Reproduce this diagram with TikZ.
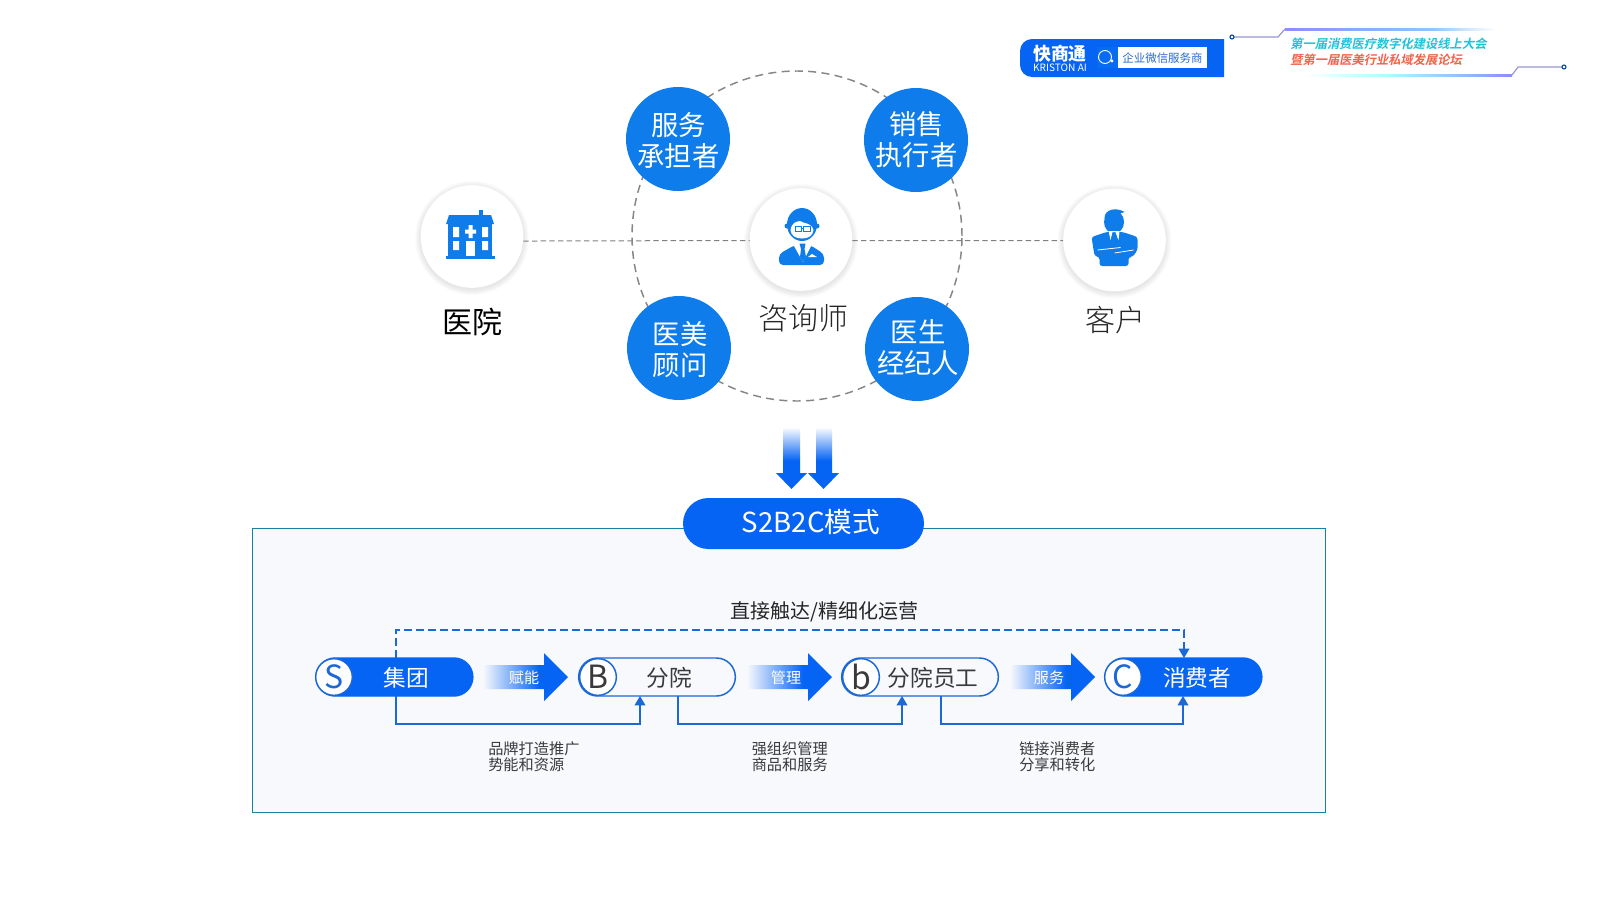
\documentclass[tikz,border=0pt]{standalone}
\usepackage{fontspec}
\usetikzlibrary{arrows.meta,shapes.misc}
\setmainfont{Noto Sans CJK SC}
\newfontfamily\slantcjk[FakeSlant=0.2]{Noto Sans CJK SC Bold}
\newfontfamily\lightcjk{Noto Sans CJK SC Light}
\newcommand{\fsz}[1]{\fontsize{#1}{#1}\selectfont}
\definecolor{circblue}{HTML}{0E7DEB}
\definecolor{pillblue}{HTML}{0564F4}
\definecolor{linkblue}{HTML}{1C68D6}
\definecolor{panelbg}{HTML}{F7F9FD}
\definecolor{panelline}{HTML}{187FA5}
\definecolor{darktxt}{HTML}{3A3A3A}
\definecolor{confcyan}{HTML}{1CC4DC}
\definecolor{confred}{HTML}{F0654A}
\pgfdeclarehorizontalshading{flowgrad}{100bp}{color(0bp)=(panelbg); color(25bp)=(panelbg); color(58bp)=(pillblue); color(100bp)=(pillblue)}
\pgfdeclareverticalshading{dropgrad}{100bp}{color(0bp)=(pillblue); color(48bp)=(pillblue); color(75bp)=(white); color(100bp)=(white)}
\pgfdeclarehorizontalshading{fadeline}{100bp}{color(0bp)=(blue!45!white); color(25bp)=(blue!45!white); color(60bp)=(cyan!50!blue!45!white); color(75bp)=(white); color(100bp)=(white)}
\pgfdeclarehorizontalshading{fadelineb}{100bp}{color(0bp)=(white); color(25bp)=(white); color(45bp)=(cyan!35!white); color(75bp)=(blue!45!white); color(100bp)=(blue!45!white)}
\tikzset{
  rolecirc/.style={circle,fill=circblue,minimum size=78pt,inner sep=0pt,outer sep=0pt},
  roletext/.style={inner sep=0pt,text=white,align=center,font=\fsz{20.5}},
  facecirc/.style={circle,fill=white,minimum size=77pt,inner sep=0pt,outer sep=0pt},
  ringline/.style={draw=gray!95,line width=1.1pt,dash pattern=on 6pt off 4pt},
  midline/.style={draw=gray,line width=.75pt,dash pattern=on 4pt off 2.5pt},
  caption/.style={inner sep=0pt,font=\lightcjk\fsz{22.5}},
  pillbase/.style={rounded rectangle,minimum width=117.5pt,minimum height=28.5pt,inner sep=0pt,outer sep=0pt,draw=linkblue,line width=1.1pt},
  pillsolid/.style={pillbase,fill=pillblue,draw=pillblue},
  pillopen/.style={pillbase,fill=panelbg},
  badge/.style={circle,minimum size=27.5pt,inner sep=0pt,outer sep=0pt,fill=white,draw=linkblue,line width=1.1pt,font=\fsz{24}},
  pilltext/.style={inner sep=0pt,font=\fsz{17}},
  flowarrow/.style={shading=flowgrad,shading angle=0},
  flowlabel/.style={inner sep=0pt,text=white,font=\fsz{11.3}},
  note/.style={inner sep=0pt,anchor=north west,align=left,text=darktxt,font=\fsz{11.4}},
  link/.style={draw=linkblue,line width=1pt,-{Triangle[width=8pt,length=7pt]}},
  dashlink/.style={link,dash pattern=on 6pt off 3pt},
}
\newcommand{\softshadow}[2]{\foreach \rr in {52,53,54,55,56,57}{\fill[black,opacity=.016] (#1,#2+1.5) circle[radius=\rr];}}
\begin{document}
\begin{tikzpicture}[x=.75pt,y=-.75pt]
\useasboundingbox (0,0) rectangle (1600,900);
\fill[white] (0,0) rectangle (1600,900);

% header logo
\fill[pillblue,rounded corners=9pt] (1224,39) -- (1020,39) -- (1020,77) -- (1224,77);
\fill[pillblue!70!circblue] (1097,47) rectangle (1118,68);
\fill[white] (1118,47) rectangle (1207,68);
\draw[white,line width=.7pt] (1105,57) circle[radius=6.5];
\fill[white] (1112,61) circle[radius=1.6];
\node[inner sep=0pt,text=white,font=\bfseries\fsz{13.4}] (logocn) at (1060,53.5) {快商通};
\node[inner sep=0pt,text=white,font=\fsz{7.6}] (logoen) at (1060,67.5) {KRISTON AI};
\node[inner sep=0pt,text=pillblue!70!gray,font=\fsz{8.6}] (logoslogan) at (1162.5,58) {企业微信服务商};

% conference title
\draw[blue!35!gray!60,line width=.9pt] (1234,37) -- (1278,37) -- (1285,29);
\draw[pillblue!70!black,line width=.8pt,fill=white] (1232,37) circle[radius=2];
\shade[shading=fadeline] (1285,28.5) rectangle (1495,30);
\node[inner sep=0pt,anchor=west,text=confcyan,font=\slantcjk\fsz{9.2}] (conf1) at (1290,44) {第一届消费医疗数字化建设线上大会};
\node[inner sep=0pt,anchor=west,text=confred,font=\slantcjk\fsz{9.2}] (conf2) at (1290,59.5) {暨第一届医美行业私域发展论坛};
\shade[shading=fadelineb] (1304,74.5) rectangle (1512,76);
\draw[blue!35!gray!60,line width=.9pt] (1512,75) -- (1518,67) -- (1562,67);
\draw[pillblue!70!black,line width=.8pt,fill=white] (1564,67) circle[radius=2];

% ring and roles
\node[circle,ringline,minimum size=247.5pt,inner sep=0pt] (ring) at (797,236) {};
\softshadow{472}{236.5}
\softshadow{801}{239.5}
\softshadow{1114.5}{240}
\node[facecirc] (hosp) at (472,236.5) {};
\node[facecirc] (doc) at (801,239.5) {};
\node[facecirc] (cust) at (1114.5,240) {};
\draw[midline] ([yshift=-3.4pt]hosp.east) -- ([yshift=-.75pt]doc.west);
\draw[midline] ([yshift=-.75pt]doc.east) -- ([yshift=-.4pt]cust.west);
\node[rolecirc] (r1) at (678,139) {};
\node[rolecirc] (r2) at (916,140) {};
\node[rolecirc] (r3) at (679,348) {};
\node[rolecirc] (r4) at (917,349) {};
\node[roletext] (rt1) at (678.5,140.5) {服务\\[3pt]承担者};
\node[roletext] (rt2) at (916.5,139.5) {销售\\[3pt]执行者};
\node[roletext] (rt3) at (680,349.5) {医美\\[3pt]顾问};
\node[roletext] (rt4) at (918,347.5) {医生\\[3pt]经纪人};
\node[caption,font=\fsz{22.5}] (c1) at (472,322) {医院};
\node[caption,text=black!85] (c2) at (803,318.5) {咨询师};
\node[caption,text=black!85] (c3) at (1115,320) {客户};

% hospital icon
\fill[circblue] (479,216) rectangle (483,210);
\fill[circblue] (449,215) -- (491,215) -- (494,224) -- (446,224) -- cycle;
\fill[circblue] (448,224) rectangle (492,256);
\fill[circblue] (446,256) rectangle (495,259);
\fill[white] (453,227) rectangle (459,237) (453,241) rectangle (459,250);
\fill[white] (482,227) rectangle (488,237) (482,241) rectangle (488,250);
\fill[white] (465,229.5) rectangle (476,233.5) (468.5,225) rectangle (472.5,238);
\fill[white] (465.5,241) rectangle (475,256);

% consultant icon
\fill[circblue,rounded corners=3pt] (779,265) -- (779,254) -- (795,245) -- (810,245) -- (824,254) -- (824,265) -- cycle;
\fill[circblue] (802,224.5) ellipse[x radius=15,y radius=16.5];
\fill[circblue] (787,226) circle[radius=2.5] (817,226) circle[radius=2.5];
\fill[white] (790.5,230) .. controls (792,222) and (796,222) .. (800,221) .. controls (804,224) and (811,222) .. (813.5,230) .. controls (813,236) and (808,238.5) .. (802,238.5) .. controls (796,238.5) and (791,236) .. (790.5,230) -- cycle;
\draw[circblue,line width=.7pt] (795,226.5) rectangle (801,231) (803.5,226.5) rectangle (810,231) (801,228) -- (803.5,228);
\fill[white] (796,243) -- (808,243) -- (811,246) -- (803,262) -- (794,246) -- cycle;
\fill[circblue] (799.5,243.5) -- (805.5,243.5) -- (804.5,249) -- (806,257) -- (803,262) -- (800,257) -- (801,249) -- cycle;
\fill[white] (808,257) -- (812,254) -- (817,257) -- cycle;

% customer icon
\begin{scope}[xshift=1.9pt]
\fill[circblue,rounded corners=2pt] (1089,237) -- (1104,232) -- (1120,232) -- (1135,237) -- (1135,250) -- (1130,257) -- (1126,257) -- (1126,266) -- (1097,266) -- (1097,257) -- (1092,256) -- cycle;
\fill[circblue] (1111.5,222) ellipse[x radius=10,y radius=11.5];
\fill[circblue] (1102,218) .. controls (1102,209) and (1114,207) .. (1122,212) -- (1116,214) -- (1120,222) -- cycle;
\fill[white] (1106,231) -- (1117,231) -- (1116,240) -- (1115,238) -- (1113,232) -- (1110,232) -- (1108,240) -- cycle;
\fill[circblue] (1110,233) -- (1113,233) -- (1115,247) -- (1108,247) -- cycle;
\draw[white,line width=.6pt] (1095,250) -- (1118,247.5) (1112,253) -- (1131,250);
\end{scope}

% double arrow
\shade[shading=dropgrad] (783,427) -- (800,427) -- (800,473) -- (807,473) -- (791.5,489) -- (776,473) -- (783,473) -- cycle;
\shade[shading=dropgrad] (816,427) -- (832,427) -- (832,473) -- (839,473) -- (823.5,489) -- (808,473) -- (816,473) -- cycle;

% panel
\draw[fill=panelbg,draw=panelline,line width=.7pt] (252,528) rectangle (1325,812.5);
\node[rounded rectangle,fill=pillblue,minimum width=180.75pt,minimum height=38.25pt,inner sep=0pt] (mode) at (803.5,523.5) {};
\node[inner sep=0pt,text=white,font=\fsz{20.7}] (modetext) at (811,522) {S2B2C模式};
\node[inner sep=0pt,text=black!85,font=\fsz{15}] (toplabel) at (824.5,612) {直接触达/精细化运营};

% flow pills
\node[pillsolid] (ps) at (394.5,677) {};
\node[pillopen] (pb) at (657,677) {};
\node[pillopen] (pe) at (920,677) {};
\node[pillsolid] (pc) at (1183.5,677) {};
\node[badge,text=linkblue] (bs) at (334,677) {S};
\node[badge,text=darktxt] (bb) at (598,677) {B};
\node[badge,text=darktxt] (be) at (861,677) {b};
\node[badge,text=linkblue] (bc) at (1123,677) {C};
\node[pilltext,text=white] (ts) at (406,678) {集团};
\node[pilltext,text=darktxt] (tb) at (669,678) {分院};
\node[pilltext,text=darktxt] (te) at (933,678) {分院员工};
\node[pilltext,text=white] (tc) at (1197,678) {消费者};

% flow arrows
\foreach \ax in {0,264,527}{
  \shade[flowarrow] (483+\ax,665) -- (544+\ax,665) -- (544+\ax,653) -- (568+\ax,677) -- (544+\ax,701) -- (544+\ax,689) -- (483+\ax,689) -- cycle;
}
\node[flowlabel] (f1) at (524,678) {赋能};
\node[flowlabel] (f2) at (786,678) {管理};
\node[flowlabel] (f3) at (1049,678) {服务};

% connectors
\coordinate (elbowa) at (396,724);
\coordinate (elbowb) at (640,724);
\coordinate (elbowc) at (678,724);
\coordinate (elbowd) at (902,724);
\coordinate (elbowe) at (941,724);
\coordinate (elbowf) at (1183,724);
\coordinate (topa) at (396,630);
\coordinate (topb) at (1184,630);
\draw[link] (ps.south -| elbowa) -- (elbowa) -- (elbowb) -- (pb.south -| elbowb);
\draw[link] (pb.south -| elbowc) -- (elbowc) -- (elbowd) -- (pe.south -| elbowd);
\draw[link] (pe.south -| elbowe) -- (elbowe) -- (elbowf) -- (pc.south -| elbowf);
\draw[dashlink] (ps.north -| topa) -- (topa) -- (topb) -- (pc.north -| topb);

% notes
\node[note] (n1) at (488,741) {品牌打造推广\\[.8pt]势能和资源};
\node[note] (n2) at (751.5,741) {强组织管理\\[.8pt]商品和服务};
\node[note] (n3) at (1019,741) {链接消费者\\[.8pt]分享和转化};
\end{tikzpicture}
\end{document}
